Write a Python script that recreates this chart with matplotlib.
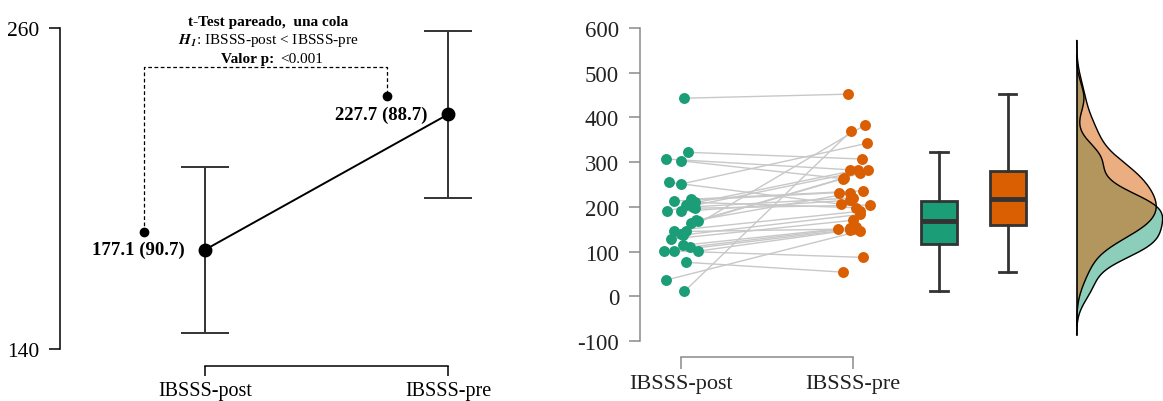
import numpy as np
import matplotlib
matplotlib.use("Agg")
import matplotlib.pyplot as plt

plt.rcParams['font.family'] = ['Liberation Serif', 'DejaVu Serif']
plt.rcParams['mathtext.fontset'] = 'stix'
plt.rcParams['axes.unicode_minus'] = False

# Datos
grupos = ["IBSSS-post", "IBSSS-pre"]
medias = [177.1, 227.7]
desv = [90.7, 88.7]
ic_inf = [146.0, 196.5]
ic_sup = [208.2, 258.9]

post = [443, 322, 307, 303, 255, 251, 217, 213, 210, 205, 200, 197, 191, 190, 170,
        168, 165, 147, 145, 140, 137, 128, 114, 110, 102, 102, 101, 76, 36, 11]
pre = [452, 307, 283, 263, 206, 342, 236, 232, 198, 283, 220, 204, 283, 215, 230,
       264, 275, 190, 150, 383, 183, 170, 155, 152, 87, 150, 148, 54, 146, 370]
jit_post = [0.02, 0.04, -0.09, 0.00, -0.07, 0.00, 0.06, -0.04, 0.08, 0.03, 0.07, 0.08, -0.08, 0.00, 0.09,
            0.10, 0.06, -0.04, 0.03, 0.00, 0.01, -0.06, 0.01, 0.05, -0.10, -0.04, 0.10, 0.03, -0.09, 0.02]
jit_pre = [-0.03, 0.05, -0.02, -0.06, -0.07, 0.08, 0.06, -0.08, 0.02, 0.03, 0.00, 0.10, 0.09, -0.02, -0.02,
           -0.05, 0.04, 0.04, -0.09, 0.07, 0.04, 0.00, 0.02, -0.02, 0.06, 0.00, -0.02, -0.06, 0.04, -0.01]

verde = "#1b9e77"
naranja = "#d95f02"

fig = plt.figure(figsize=(11.63, 4.02), dpi=100)

# ---- Panel izquierdo: medias con IC ----
ax1 = fig.add_axes([60 / 1163, 1 - 350 / 402, 440 / 1163, 321 / 402])
x = np.array([1, 2])
ax1.plot(x, medias, color="black", lw=1.4, zorder=2)
ax1.errorbar(x, medias, yerr=[np.array(medias) - ic_inf, np.array(ic_sup) - medias],
             fmt="none", ecolor="#333333", elinewidth=1.4, capsize=17, capthick=1.4, zorder=1)
ax1.plot(x, medias, "o", color="black", ms=9, zorder=3)
for xi, m, s in zip(x, medias, desv):
    ax1.text(xi - 0.085, m, f"{m:.1f} ({s:.1f})", ha="right", va="center",
             fontsize=13.5, fontweight="bold")

# corchete de la prueba
bx = x - 0.25
by = np.array(medias) + 6.8
top = 245.4
ax1.plot([bx[0], bx[0], bx[1], bx[1]], [by[0], top, top, by[1]],
         ls=(0, (3, 2)), color="black", lw=0.9)
ax1.plot(bx, by, "o", color="black", ms=6)
ax1.text(1.26, 262.6, "t-Test pareado,  una cola", ha="center", va="center",
         fontsize=11, fontweight="bold")
ax1.text(1.26, 255.6, r"$\mathbfit{H}_\mathbfit{1}$: IBSSS-post < IBSSS-pre", ha="center",
         va="center", fontsize=11)
ax1.text(1.284, 248.7, "Valor p:", ha="right", va="center", fontsize=11, fontweight="bold")
ax1.text(1.31, 248.7, "<0.001", ha="left", va="center", fontsize=11)

ax1.set_xlim(1 - 145 / 243, 1 + 295 / 243)
ax1.set_ylim(140, 260)
ax1.set_yticks([140, 260])
ax1.set_xticks(x)
ax1.set_xticklabels(grupos)
for s in ["top", "right"]:
    ax1.spines[s].set_visible(False)
ax1.spines["left"].set_bounds(140, 260)
ax1.spines["bottom"].set_bounds(1, 2)
ax1.spines["bottom"].set_position(("outward", 12))
for s in ["left", "bottom"]:
    ax1.spines[s].set_linewidth(1.1)
ax1.tick_params(axis="y", length=8, width=1.1, pad=7, labelsize=15.5)
ax1.tick_params(axis="x", length=7, width=1.1, pad=4, labelsize=14.5)
ax1.patch.set_visible(False)

# ---- Panel derecho: raincloud ----
gris = "#8a8a8a"
ax2 = fig.add_axes([640 / 1163, 1 - 342 / 402, 523 / 1163, 313 / 402])
xp = 1 + np.array(jit_post)
xr = 2 + np.array(jit_pre)
for a, b, ya, yb in zip(xp, xr, post, pre):
    ax2.plot([a, b], [ya, yb], color="#c8c8c8", lw=1.0, zorder=1)
ax2.scatter(xp, post, s=62, color=verde, zorder=2, linewidths=0)
ax2.scatter(xr, pre, s=62, color=naranja, zorder=2, linewidths=0)

bp = ax2.boxplot([post, pre], positions=[2.5, 2.9], widths=0.21, patch_artist=True,
                 showfliers=False, whis=1.5,
                 boxprops=dict(edgecolor="#333333", linewidth=2),
                 medianprops=dict(color="#333333", linewidth=3.5),
                 whiskerprops=dict(color="#333333", linewidth=2),
                 capprops=dict(color="#333333", linewidth=2), capwidths=0.1)
for caja, c in zip(bp["boxes"], [verde, naranja]):
    caja.set_facecolor(c)


def kde(datos):
    d = np.asarray(datos, float)
    n = len(d)
    iqr = np.subtract(*np.percentile(d, [75, 25]))
    bw = 0.9 * min(d.std(ddof=1), iqr / 1.34) * n ** -0.2
    g = np.linspace(d.min() - 3 * bw, d.max() + 3 * bw, 512)
    dens = np.exp(-0.5 * ((g[:, None] - d[None, :]) / bw) ** 2).sum(1) / (n * bw * np.sqrt(2 * np.pi))
    return g, dens


g1, d1 = kde(post)
g2, d2 = kde(pre)
base = 3.30
esc = 0.5 / max(d1.max(), d2.max())
ax2.fill_betweenx(g1, base, base + d1 * esc, color=verde, alpha=0.5, lw=0)
ax2.plot(base + d1 * esc, g1, color="black", lw=1)
ax2.fill_betweenx(g2, base, base + d2 * esc, color=naranja, alpha=0.5, lw=0)
ax2.plot(base + d2 * esc, g2, color="black", lw=1)
ax2.plot([base, base], [min(g1.min(), g2.min()), max(g1.max(), g2.max())], color="black", lw=1.2)

ax2.set_xlim(1 - 41 / 172, 1 + 482 / 172)
ax2.set_ylim(-100, 600)
ax2.set_yticks(range(-100, 601, 100))
ax2.set_xticks([1, 2])
ax2.set_xticklabels(grupos)
for s in ["top", "right"]:
    ax2.spines[s].set_visible(False)
ax2.spines["left"].set_bounds(-100, 600)
ax2.spines["bottom"].set_bounds(1, 2)
ax2.spines["bottom"].set_position(("outward", 11.5))
for s in ["left", "bottom"]:
    ax2.spines[s].set_color(gris)
    ax2.spines[s].set_linewidth(1.1)
ax2.tick_params(axis="y", length=8, width=1.1, pad=7, labelsize=16.5, color=gris, labelcolor="#222222")
ax2.tick_params(axis="x", length=8.5, width=1.1, pad=4, labelsize=16, color=gris, labelcolor="#222222")
ax2.patch.set_visible(False)

fig.savefig("out.png", dpi=100)
